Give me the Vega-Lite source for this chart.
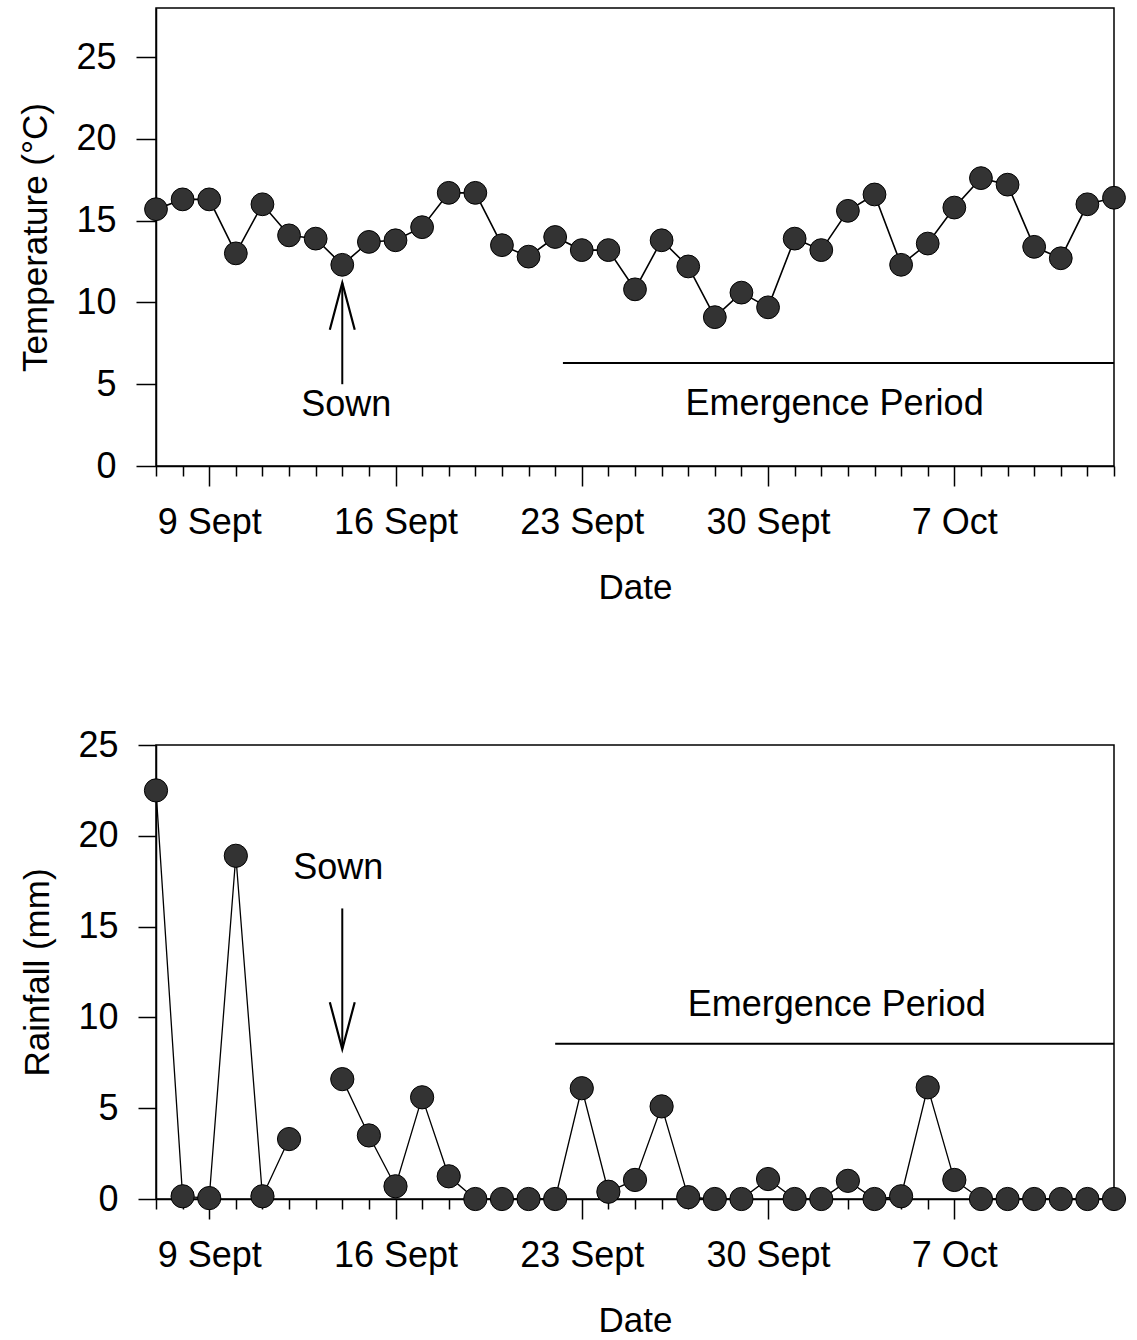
{
  "$schema": "https://vega.github.io/schema/vega-lite/v6.json",
  "background": "white",
  "padding": {"left": 18, "top": 7, "right": 12, "bottom": 4},
  "spacing": 120,
  "config": {
    "font": "Liberation Sans",
    "view": {"stroke": "#000", "strokeWidth": 1.5},
    "axis": {
      "domainColor": "#000", "domainWidth": 1.5,
      "tickColor": "#000", "tickWidth": 1.5,
      "labelColor": "#000", "titleColor": "#000",
      "labelFont": "Liberation Sans", "titleFont": "Liberation Sans",
      "labelFontSize": 36, "titleFontSize": 35, "titleFontWeight": "normal",
      "grid": false, "labelFlush": false, "labelOverlap": false
    },
    "text": {"font": "Liberation Sans", "fontSize": 36, "color": "#000"}
  },
  "datasets": {
    "temp": [
      {"date": "2000-09-07", "temperature": 15.7},
      {"date": "2000-09-08", "temperature": 16.3},
      {"date": "2000-09-09", "temperature": 16.3},
      {"date": "2000-09-10", "temperature": 13.0},
      {"date": "2000-09-11", "temperature": 16.0},
      {"date": "2000-09-12", "temperature": 14.1},
      {"date": "2000-09-13", "temperature": 13.9},
      {"date": "2000-09-14", "temperature": 12.3},
      {"date": "2000-09-15", "temperature": 13.7},
      {"date": "2000-09-16", "temperature": 13.8},
      {"date": "2000-09-17", "temperature": 14.6},
      {"date": "2000-09-18", "temperature": 16.7},
      {"date": "2000-09-19", "temperature": 16.7},
      {"date": "2000-09-20", "temperature": 13.5},
      {"date": "2000-09-21", "temperature": 12.8},
      {"date": "2000-09-22", "temperature": 14.0},
      {"date": "2000-09-23", "temperature": 13.2},
      {"date": "2000-09-24", "temperature": 13.2},
      {"date": "2000-09-25", "temperature": 10.8},
      {"date": "2000-09-26", "temperature": 13.8},
      {"date": "2000-09-27", "temperature": 12.2},
      {"date": "2000-09-28", "temperature": 9.1},
      {"date": "2000-09-29", "temperature": 10.6},
      {"date": "2000-09-30", "temperature": 9.7},
      {"date": "2000-10-01", "temperature": 13.9},
      {"date": "2000-10-02", "temperature": 13.2},
      {"date": "2000-10-03", "temperature": 15.6},
      {"date": "2000-10-04", "temperature": 16.6},
      {"date": "2000-10-05", "temperature": 12.3},
      {"date": "2000-10-06", "temperature": 13.6},
      {"date": "2000-10-07", "temperature": 15.8},
      {"date": "2000-10-08", "temperature": 17.6},
      {"date": "2000-10-09", "temperature": 17.2},
      {"date": "2000-10-10", "temperature": 13.4},
      {"date": "2000-10-11", "temperature": 12.7},
      {"date": "2000-10-12", "temperature": 16.0},
      {"date": "2000-10-13", "temperature": 16.4}
    ],
    "rain": [
      {"date": "2000-09-07", "rainfall": 22.5},
      {"date": "2000-09-08", "rainfall": 0.15},
      {"date": "2000-09-09", "rainfall": 0.05},
      {"date": "2000-09-10", "rainfall": 18.9},
      {"date": "2000-09-11", "rainfall": 0.15},
      {"date": "2000-09-12", "rainfall": 3.3},
      {"date": "2000-09-13", "rainfall": null},
      {"date": "2000-09-14", "rainfall": 6.6},
      {"date": "2000-09-15", "rainfall": 3.5},
      {"date": "2000-09-16", "rainfall": 0.7},
      {"date": "2000-09-17", "rainfall": 5.6},
      {"date": "2000-09-18", "rainfall": 1.25},
      {"date": "2000-09-19", "rainfall": 0},
      {"date": "2000-09-20", "rainfall": 0},
      {"date": "2000-09-21", "rainfall": 0},
      {"date": "2000-09-22", "rainfall": 0},
      {"date": "2000-09-23", "rainfall": 6.1},
      {"date": "2000-09-24", "rainfall": 0.4},
      {"date": "2000-09-25", "rainfall": 1.05},
      {"date": "2000-09-26", "rainfall": 5.1},
      {"date": "2000-09-27", "rainfall": 0.1},
      {"date": "2000-09-28", "rainfall": 0},
      {"date": "2000-09-29", "rainfall": 0},
      {"date": "2000-09-30", "rainfall": 1.1},
      {"date": "2000-10-01", "rainfall": 0},
      {"date": "2000-10-02", "rainfall": 0},
      {"date": "2000-10-03", "rainfall": 1.0},
      {"date": "2000-10-04", "rainfall": 0},
      {"date": "2000-10-05", "rainfall": 0.15},
      {"date": "2000-10-06", "rainfall": 6.15},
      {"date": "2000-10-07", "rainfall": 1.05},
      {"date": "2000-10-08", "rainfall": 0},
      {"date": "2000-10-09", "rainfall": 0},
      {"date": "2000-10-10", "rainfall": 0},
      {"date": "2000-10-11", "rainfall": 0},
      {"date": "2000-10-12", "rainfall": 0},
      {"date": "2000-10-13", "rainfall": 0}
    ]
  },
  "vconcat": [
    {
      "width": 958,
      "height": 458,
      "encoding": {
        "x": {
          "field": "date", "type": "temporal",
          "scale": {"type": "utc", "nice": false,
            "domain": [{"year": 2000, "month": 9, "date": 7, "utc": true}, {"year": 2000, "month": 10, "date": 13, "utc": true}]},
          "axis": {
            "title": "Date", "titlePadding": 30,
            "tickCount": {"interval": "day", "step": 1},
            "tickSize": {"condition": {"test": "(utcmonth(datum.value) == 8 && indexof([9,16,23,30], utcdate(datum.value)) >= 0) || (utcmonth(datum.value) == 9 && utcdate(datum.value) == 7)", "value": 20}, "value": 10},
            "labelPadding": 19,
            "labelExpr": "(utcmonth(datum.value) == 8 && indexof([9,16,23,30], utcdate(datum.value)) >= 0) ? utcdate(datum.value) + ' Sept' : ((utcmonth(datum.value) == 9 && utcdate(datum.value) == 7) ? '7 Oct' : '')"
          }
        }
      },
      "layer": [
        {
          "data": {"name": "temp"},
          "mark": {"type": "line", "color": "#000", "strokeWidth": 1.6},
          "encoding": {
            "y": {"field": "temperature", "type": "quantitative",
              "scale": {"domain": [0, 28], "nice": false, "zero": false},
              "axis": {"title": "Temperature (°C)", "values": [0, 5, 10, 15, 20, 25], "tickSize": 20, "labelPadding": 20, "titlePadding": 22}}
          }
        },
        {
          "data": {"name": "temp"},
          "mark": {"type": "point", "filled": true, "fill": "#333", "stroke": "#000", "strokeWidth": 1, "opacity": 1, "size": 520},
          "encoding": {"y": {"field": "temperature", "type": "quantitative"}}
        },
        {
          "data": {"values": [{"date": "2000-09-14", "from": 5.0, "to": 11.2}]},
          "mark": {"type": "rule", "color": "#000", "strokeWidth": 2},
          "encoding": {"y": {"field": "from", "type": "quantitative"}, "y2": {"field": "to"}}
        },
        {
          "data": {"values": [{"date": "2000-09-14", "tip": 11.2}]},
          "mark": {"type": "point", "shape": "M-0.53,2L0,0L0.53,2", "filled": false, "stroke": "#000", "strokeWidth": 2.2, "opacity": 1, "size": 2209},
          "encoding": {"y": {"field": "tip", "type": "quantitative"}}
        },
        {
          "data": {"values": [{"date": "2000-09-14", "pos": 3.7, "label": "Sown"}]},
          "mark": {"type": "text", "baseline": "middle", "align": "center", "dx": 4},
          "encoding": {"y": {"field": "pos", "type": "quantitative"}, "text": {"field": "label"}}
        },
        {
          "data": {"values": [{"date": "2000-09-22T07:00:00Z", "end": "2000-10-13", "level": 6.3}]},
          "mark": {"type": "rule", "color": "#000", "strokeWidth": 2},
          "encoding": {"x2": {"field": "end"}, "y": {"field": "level", "type": "quantitative"}}
        },
        {
          "data": {"values": [{"date": "2000-10-02T12:00:00Z", "pos": 3.8, "label": "Emergence Period"}]},
          "mark": {"type": "text", "baseline": "middle", "align": "center"},
          "encoding": {"y": {"field": "pos", "type": "quantitative"}, "text": {"field": "label"}}
        }
      ]
    },
    {
      "width": 958,
      "height": 454,
      "encoding": {
        "x": {
          "field": "date", "type": "temporal",
          "scale": {"type": "utc", "nice": false,
            "domain": [{"year": 2000, "month": 9, "date": 7, "utc": true}, {"year": 2000, "month": 10, "date": 13, "utc": true}]},
          "axis": {
            "title": "Date", "titlePadding": 30,
            "tickCount": {"interval": "day", "step": 1},
            "tickSize": {"condition": {"test": "(utcmonth(datum.value) == 8 && indexof([9,16,23,30], utcdate(datum.value)) >= 0) || (utcmonth(datum.value) == 9 && utcdate(datum.value) == 7)", "value": 20}, "value": 10},
            "labelPadding": 19,
            "labelExpr": "(utcmonth(datum.value) == 8 && indexof([9,16,23,30], utcdate(datum.value)) >= 0) ? utcdate(datum.value) + ' Sept' : ((utcmonth(datum.value) == 9 && utcdate(datum.value) == 7) ? '7 Oct' : '')"
          }
        }
      },
      "layer": [
        {
          "data": {"name": "rain"},
          "mark": {"type": "line", "color": "#000", "strokeWidth": 1.3, "invalid": "break-paths-filter-domains"},
          "encoding": {
            "y": {"field": "rainfall", "type": "quantitative",
              "scale": {"domain": [0, 25], "nice": false, "zero": false},
              "axis": {"title": "Rainfall (mm)", "values": [0, 5, 10, 15, 20, 25], "tickSize": 18, "labelPadding": 20, "titlePadding": 22}}
          }
        },
        {
          "data": {"name": "rain"},
          "mark": {"type": "point", "filled": true, "fill": "#333", "stroke": "#000", "strokeWidth": 1, "opacity": 1, "size": 540},
          "encoding": {"y": {"field": "rainfall", "type": "quantitative"}}
        },
        {
          "data": {"values": [{"date": "2000-09-14", "from": 8.3, "to": 16.0}]},
          "mark": {"type": "rule", "color": "#000", "strokeWidth": 2},
          "encoding": {"y": {"field": "from", "type": "quantitative"}, "y2": {"field": "to"}}
        },
        {
          "data": {"values": [{"date": "2000-09-14", "tip": 8.25}]},
          "mark": {"type": "point", "shape": "M-0.53,-2L0,0L0.53,-2", "filled": false, "stroke": "#000", "strokeWidth": 2.2, "opacity": 1, "size": 2209},
          "encoding": {"y": {"field": "tip", "type": "quantitative"}}
        },
        {
          "data": {"values": [{"date": "2000-09-14", "pos": 18.2, "label": "Sown"}]},
          "mark": {"type": "text", "baseline": "middle", "align": "center", "dx": -4},
          "encoding": {"y": {"field": "pos", "type": "quantitative"}, "text": {"field": "label"}}
        },
        {
          "data": {"values": [{"date": "2000-09-22", "end": "2000-10-13", "level": 8.55}]},
          "mark": {"type": "rule", "color": "#000", "strokeWidth": 2},
          "encoding": {"x2": {"field": "end"}, "y": {"field": "level", "type": "quantitative"}}
        },
        {
          "data": {"values": [{"date": "2000-10-02T14:00:00Z", "pos": 10.66, "label": "Emergence Period"}]},
          "mark": {"type": "text", "baseline": "middle", "align": "center"},
          "encoding": {"y": {"field": "pos", "type": "quantitative"}, "text": {"field": "label"}}
        }
      ]
    }
  ]
}
